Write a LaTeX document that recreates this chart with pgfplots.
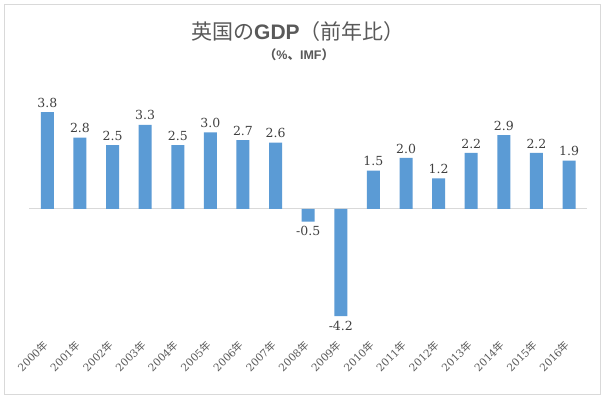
\documentclass[border=0pt]{standalone}
\usepackage{pgfplots}
\pgfplotsset{compat=1.18}
\usepackage{fontspec}
\setmainfont{DejaVu Serif}
\newfontfamily\cjk{Noto Sans CJK JP}
\newfontfamily\arial{Liberation Sans}
\definecolor{bar}{HTML}{5B9BD5}
\definecolor{txt}{HTML}{595959}
\definecolor{vtxt}{HTML}{404040}
\definecolor{gridc}{HTML}{D9D9D9}
\begin{document}
\begin{tikzpicture}[x=1pt,y=1pt]
\path[use as bounding box] (0,0) rectangle (605,399);
\fill[white] (0,0) rectangle (605,399);
\draw[gridc, line width=1pt] (4.5,4.5) rectangle (600.5,394.5);
\node[text=txt, font=\fontsize{21}{23}\selectfont] at (298,367) {{\cjk 英国の}{\arial\bfseries GDP}{\cjk （前年比）}};
\node[text=txt, font=\fontsize{12.5}{14}\selectfont\arial\bfseries] at (299,344) {{\cjk （}\%{\cjk 、}IMF{\cjk ）}};
\begin{axis}[
  at={(29.4pt,57.4pt)}, anchor=south west, scale only axis,
  width=557.6pt, height=255pt,
  xmin=-0.55, xmax=16.55, ymin=-5.2, ymax=4.8,
  axis line style={draw=none},
  major tick length=0pt,
  ytick=\empty,
  xtick={0,...,16},
  xticklabels={2000{\cjk 年},2001{\cjk 年},2002{\cjk 年},2003{\cjk 年},2004{\cjk 年},2005{\cjk 年},2006{\cjk 年},2007{\cjk 年},2008{\cjk 年},2009{\cjk 年},2010{\cjk 年},2011{\cjk 年},2012{\cjk 年},2013{\cjk 年},2014{\cjk 年},2015{\cjk 年},2016{\cjk 年}},
  xticklabel style={rotate=45, anchor=east, text=txt, font=\fontsize{10.5}{12}\selectfont, inner sep=2pt},
  ybar, bar width=13pt,
  nodes near coords={\pgfmathprintnumber[fixed,fixed zerofill,precision=1,assume math mode=true]{\pgfplotspointmeta}},
  nodes near coords align={vertical},
  every node near coord/.append style={text=vtxt, font=\fontsize{12.5}{14}\selectfont, inner sep=4.5pt},
  clip=false,
]
\draw[gridc, line width=1pt] (axis cs:-0.55,0) -- (axis cs:16.55,0);
\addplot[fill=bar, draw=none] coordinates {
(0,3.8) (1,2.8) (2,2.5) (3,3.3) (4,2.5) (5,3.0) (6,2.7) (7,2.6) (8,-0.5)
(9,-4.2) (10,1.5) (11,2.0) (12,1.2) (13,2.2) (14,2.9) (15,2.2) (16,1.9)};
\end{axis}
\end{tikzpicture}
\end{document}
